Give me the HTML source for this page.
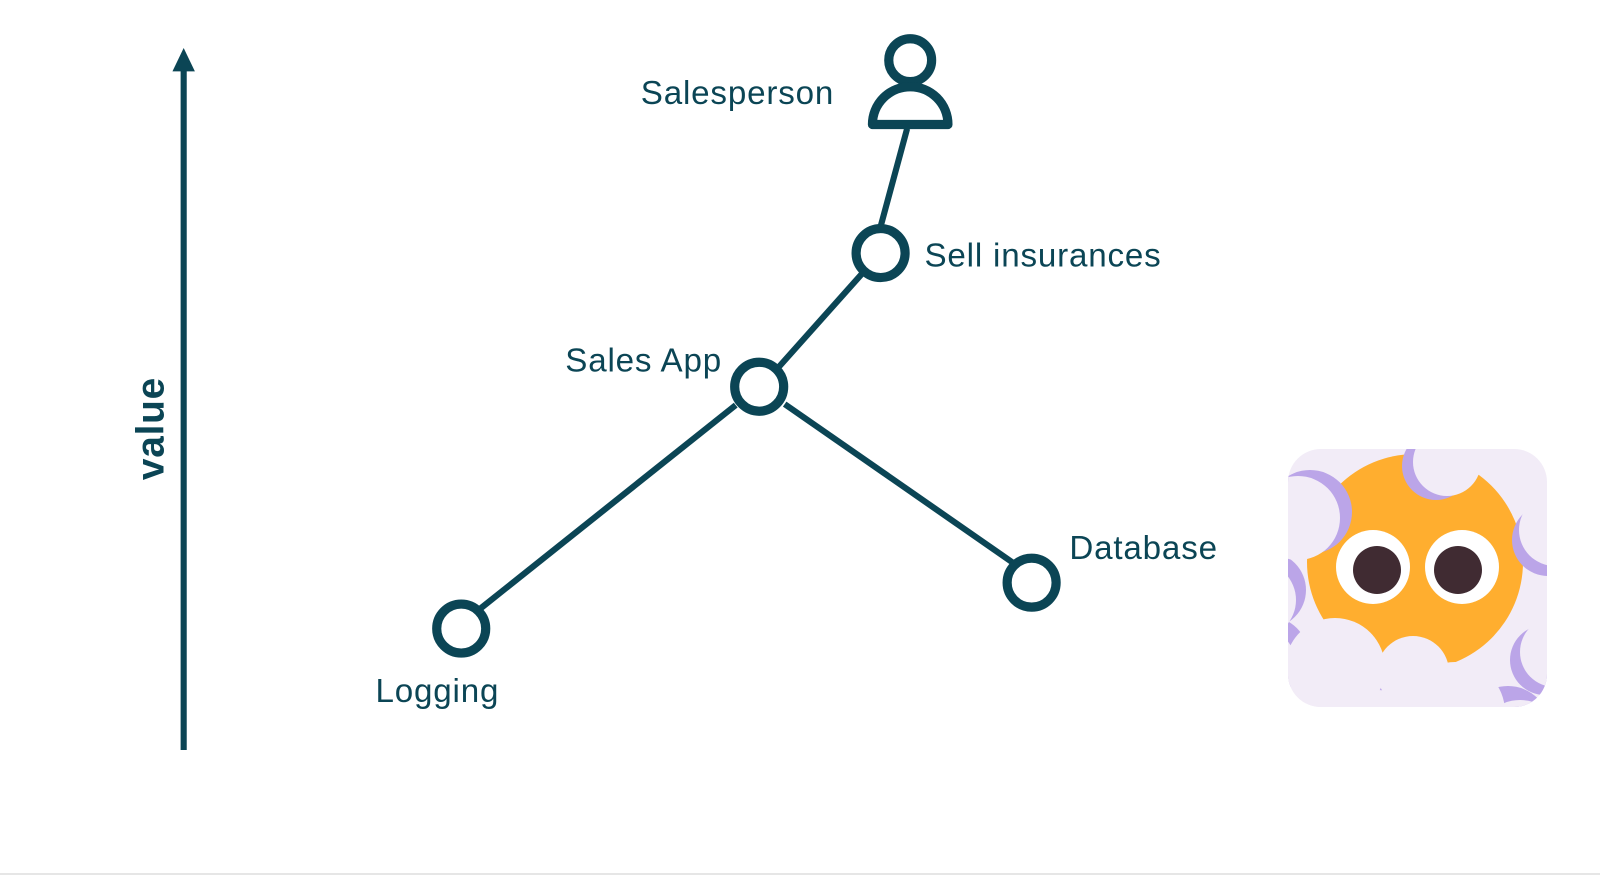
<!DOCTYPE html>
<html><head><style>
html,body{margin:0;padding:0;background:#fff;}
svg{display:block;}
text{font-family:"Liberation Sans",sans-serif;fill:#0b4555;letter-spacing:0.8px;}
</style></head><body>
<svg width="1600" height="876" viewBox="0 0 1600 876">
<rect x="0" y="873" width="1600" height="2" fill="#e6e6e6"/>
<g transform="scale(1.0204)">
<g stroke="#0b4555" stroke-width="6" fill="none">
<line x1="180" y1="66" x2="180" y2="735"/>
<line x1="889" y1="126" x2="863" y2="222"/>
<line x1="845" y1="268" x2="762" y2="361"/>
<line x1="721" y1="397" x2="470" y2="597"/>
<line x1="769" y1="396" x2="992" y2="551"/>
</g>
<polygon points="169,70 191,70 180,47" fill="#0b4555"/>
<g stroke="#0b4555" stroke-width="9" fill="#fff">
<circle cx="863" cy="248" r="24"/>
<circle cx="744" cy="379" r="24"/>
<circle cx="452" cy="616" r="24"/>
<circle cx="1011" cy="571" r="24"/>
<circle cx="892" cy="59" r="21"/>
<path d="M855,122 A37,37 0 0 1 929,122 Z" stroke-linejoin="round"/>
</g>
<text x="628" y="102" font-size="32.5">Salesperson</text>
<text x="906" y="261" font-size="32.5">Sell insurances</text>
<text x="554" y="364" font-size="32.5">Sales App</text>
<text x="368" y="688" font-size="32.5">Logging</text>
<text x="1048" y="548" font-size="32.5">Database</text>
<text transform="translate(160,420) rotate(-90)" font-size="38" font-weight="bold" text-anchor="middle">value</text>
</g>
<defs><clipPath id="c"><rect x="1288" y="449" width="259" height="258" rx="33"/></clipPath></defs>
<g clip-path="url(#c)">
<rect x="1288" y="449" width="259" height="258" fill="#f2ecf7"/>
<circle cx="1415" cy="562" r="108" fill="#ffae2f"/>
<g fill="#bba5e8">
<circle cx="1436" cy="466" r="34"/>
<circle cx="1310" cy="512" r="42"/>
<circle cx="1548" cy="540" r="36"/>
<circle cx="1268" cy="590" r="38"/>
<circle cx="1270" cy="655" r="38"/>
<circle cx="1405" cy="682" r="36"/>
<circle cx="1365" cy="720" r="40"/>
<circle cx="1545" cy="660" r="35"/>
<circle cx="1508" cy="728" r="42"/>
</g>
<g fill="#f2ecf7">
<circle cx="1447" cy="462" r="34"/>
<circle cx="1298" cy="518" r="42"/>
<circle cx="1555" cy="530" r="36"/>
<circle cx="1258" cy="600" r="38"/>
<circle cx="1258" cy="665" r="38"/>
<circle cx="1335" cy="668" r="50"/>
<circle cx="1413" cy="672" r="36"/>
<circle cx="1378" cy="730" r="40"/>
<circle cx="1455" cy="712" r="50"/>
<circle cx="1555" cy="652" r="35"/>
<circle cx="1520" cy="742" r="42"/>
</g>
<circle cx="1373" cy="567" r="37" fill="#fff"/><circle cx="1462" cy="567" r="37" fill="#fff"/>
<circle cx="1377" cy="570" r="24" fill="#402b32"/><circle cx="1458" cy="570" r="24" fill="#402b32"/>
</g>
</svg>
</body></html>
